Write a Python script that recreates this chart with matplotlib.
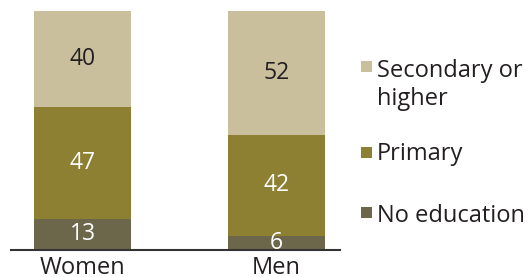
import matplotlib.pyplot as plt
from matplotlib.patches import Rectangle

plt.rcParams["font.family"] = ["Open Sans", "DejaVu Sans"]

# data
groups = ["Women", "Men"]
levels = ["No education", "Primary", "Secondary or\nhigher"]
no_education = [13, 6]
primary = [47, 42]
secondary = [40, 52]

colors = ["#6c664b", "#8d8033", "#c9bf9c"]
label_colors = ["white", "white", "#231f20"]

fig = plt.figure(figsize=(5.28, 2.77), dpi=100)
ax = fig.add_axes([11 / 528, 27 / 277, 329 / 528, 239 / 277])

x = list(range(len(groups)))
bottoms = [0] * len(groups)
for vals, col, tcol in zip([no_education, primary, secondary], colors, label_colors):
    bars = ax.bar(x, vals, width=0.5, bottom=bottoms, color=col, linewidth=0)
    for b, v, bot in zip(bars, vals, bottoms):
        ax.text(b.get_x() + b.get_width() / 2, bot + v / 2, str(v),
                ha="center", va="center", color=tcol, fontsize=16.5)
    bottoms = [b + v for b, v in zip(bottoms, vals)]

ax.set_xlim(-0.369, 1.327)
ax.set_ylim(0, 100)
ax.set_xticks(x)
ax.set_xticklabels(groups, fontsize=17, color="#231f20")
ax.tick_params(axis="x", length=0, pad=4)
ax.set_yticks([])
for s in ["top", "right", "left"]:
    ax.spines[s].set_visible(False)
ax.spines["bottom"].set_color("#333333")
ax.spines["bottom"].set_linewidth(1.5)

# legend, drawn by hand so the square lines up with the first text line
square_y = [212, 152, 66]
first_baseline = [221.5, 160.5, 77]
line_gap = 28.4
for lab, col, yc, yb in zip(levels, colors, square_y, first_baseline):
    fy = 1 - yc / 277
    fig.add_artist(Rectangle((361 / 528, fy - 5.5 / 277), 11 / 528, 11 / 277,
                             transform=fig.transFigure, color=col, linewidth=0))
    for i, line in enumerate(lab.split("\n")):
        fig.text(377 / 528, 1 - (yb + i * line_gap) / 277, line, ha="left",
                 va="baseline", fontsize=17, color="#231f20")

fig.savefig("out.png", dpi=100)
